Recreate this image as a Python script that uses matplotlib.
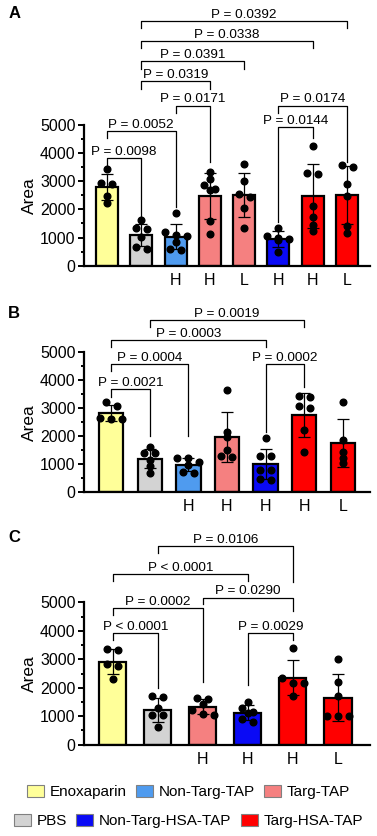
import numpy as np
import matplotlib
matplotlib.use('Agg')
import matplotlib.pyplot as plt
from matplotlib.patches import Patch

plt.rcParams['font.family'] = ['Liberation Sans', 'DejaVu Sans']

# group colours
colors = {
    'Enoxaparin': '#FFFF99',
    'PBS': '#D3D3D3',
    'Non-Targ-TAP': '#4F9BEF',
    'Targ-TAP': '#F58080',
    'Non-Targ-HSA-TAP': '#0A0AF5',
    'Targ-HSA-TAP': '#FF0000',
}

# panel A
groups_a = ['Enoxaparin', 'PBS', 'Non-Targ-TAP', 'Targ-TAP', 'Targ-TAP',
            'Non-Targ-HSA-TAP', 'Targ-HSA-TAP', 'Targ-HSA-TAP']
labels_a = ['', '', 'H', 'H', 'L', 'H', 'H', 'L']
points_a = [
    [3420, 2950, 2890, 2490, 2220],
    [1620, 1330, 1300, 1010, 590, 680],
    [1880, 1080, 1050, 1200, 830, 560, 600],
    [3320, 3080, 2870, 2690, 2720, 1590, 1110],
    [3620, 3000, 2450, 2540, 2060, 1330],
    [1350, 1000, 950, 1050, 900, 480],
    [4250, 3260, 3310, 2130, 1740, 1250, 1450],
    [3490, 3580, 2900, 2490, 1420, 1150],
]
# (left bar, right bar, line height, left leg end, right leg end, text)
brackets_a = [
    (1, 7, 8700, 8450, 8450, 'P = 0.0392'),
    (1, 6, 7970, 7740, 7740, 'P = 0.0338'),
    (1, 4, 7260, 7000, 7000, 'P = 0.0391'),
    (1, 3, 6550, 6290, 6290, 'P = 0.0319'),
    (2, 3, 5690, 5420, 3700, 'P = 0.0171'),
    (0, 2, 4770, 4530, 2100, 'P = 0.0052'),
    (0, 1, 3820, 3580, 1540, 'P = 0.0098'),
    (5, 7, 5690, 5420, 3700, 'P = 0.0174'),
    (5, 6, 4925, 1570, 4530, 'P = 0.0144'),
]

# panel B
groups_b = ['Enoxaparin', 'PBS', 'Non-Targ-TAP', 'Targ-TAP',
            'Non-Targ-HSA-TAP', 'Targ-HSA-TAP', 'Targ-HSA-TAP']
labels_b = ['', '', 'H', 'H', 'H', 'H', 'L']
points_b = [
    [3230, 3060, 2600, 2600, 2650],
    [1620, 1390, 1400, 1150, 950, 680],
    [1230, 1230, 1090, 980, 680, 730],
    [3640, 2160, 1970, 1500, 1250, 1290],
    [1950, 1300, 1290, 780, 800, 440, 460],
    [3380, 3430, 3020, 3070, 2220, 1450],
    [3210, 1860, 1450, 1240, 1030],
]
brackets_b = [
    (1, 5, 6140, 5890, 5890, 'P = 0.0019'),
    (0, 4, 5430, 5180, 5180, 'P = 0.0003'),
    (0, 2, 4570, 4330, 2000, 'P = 0.0004'),
    (0, 1, 3670, 3410, 2010, 'P = 0.0021'),
    (4, 5, 4570, 2150, 3750, 'P = 0.0002'),
]

# panel C
groups_c = ['Enoxaparin', 'PBS', 'Targ-TAP', 'Non-Targ-HSA-TAP',
            'Targ-HSA-TAP', 'Targ-HSA-TAP']
labels_c = ['', '', 'H', 'H', 'H', 'L']
points_c = [
    [3360, 3340, 2820, 2780, 2300],
    [1690, 1710, 1300, 1040, 1040, 610],
    [1630, 1610, 1420, 1220, 1080, 1050],
    [1490, 1300, 1150, 1100, 920, 790],
    [3380, 2330, 2160, 2180, 1710],
    [3010, 2190, 1710, 1010, 1010, 1010],
]
brackets_c = [
    (1, 4, 6980, 6720, 5730, 'P = 0.0106'),
    (0, 3, 5985, 5750, 5750, 'P < 0.0001'),
    (2, 4, 5165, 4930, 4700, 'P = 0.0290'),
    (0, 2, 4790, 4555, 2210, 'P = 0.0002'),
    (0, 1, 3910, 3675, 1980, 'P < 0.0001'),
    (3, 4, 3910, 2100, 3675, 'P = 0.0029'),
]

legend_row1 = ['Enoxaparin', 'Non-Targ-TAP', 'Targ-TAP']
legend_row2 = ['PBS', 'Non-Targ-HSA-TAP', 'Targ-HSA-TAP']


def swarm(vals, px_per_x, px_per_y=0.028, gap=5.0, step=11.0):
    """horizontal offsets so that dots with similar values sit side by side"""
    vals = np.asarray(vals, dtype=float)
    order = np.argsort(-vals)
    rows, cur = [], [order[0]]
    for i in order[1:]:
        if (vals[cur[0]] - vals[i]) * px_per_y < gap and len(cur) < 3:
            cur.append(i)
        else:
            rows.append(cur)
            cur = [i]
    rows.append(cur)
    offs = np.zeros(len(vals))
    for r in rows:
        n = len(r)
        for k, i in enumerate(r):
            offs[i] = (k - (n - 1) / 2) * step
    return offs / px_per_x


def panel(ax, groups, labels, points, brackets, xlim, width, px_per_x):
    x = np.arange(len(groups))
    means = [np.mean(p) for p in points]
    sds = [np.std(p, ddof=1) for p in points]
    ax.bar(x, means, width=width, color=[colors[g] for g in groups],
           edgecolor='black', linewidth=1.6, zorder=2)
    ax.errorbar(x, means, yerr=sds, fmt='none', ecolor='black',
                elinewidth=0.9, capsize=4, capthick=0.9, zorder=3)
    for xi, p in zip(x, points):
        ax.plot(xi + swarm(p, px_per_x), p, 'o', color='black',
                markersize=4.8, zorder=4, clip_on=False)
    for i, j, y, yl, yr, txt in brackets:
        ax.plot([i, i, j, j], [yl, y, y, yr], color='black', lw=0.9,
                clip_on=False, zorder=5)
        ax.annotate(txt, ((i + j) / 2, y), xytext=(0, 2.3),
                    textcoords='offset points', ha='center', va='baseline',
                    fontsize=9.7, annotation_clip=False)
    ax.set_xlim(*xlim)
    ax.set_ylim(0, 5000)
    ax.set_yticks(range(0, 5001, 1000))
    ax.set_yticks(range(500, 5000, 1000), minor=True)
    ax.set_xticks(x)
    ax.set_xticklabels(labels, fontsize=11.5)
    ax.tick_params(axis='x', length=0, pad=5)
    ax.tick_params(axis='y', which='major', length=4.5, width=1.4,
                   labelsize=11.5, pad=1.5)
    ax.tick_params(axis='y', which='minor', length=2.5, width=1.4)
    ax.set_ylabel('Area', fontsize=12.5, labelpad=2)
    for s in ['top', 'right']:
        ax.spines[s].set_visible(False)
    for s in ['left', 'bottom']:
        ax.spines[s].set_linewidth(1.6)


fig = plt.figure(figsize=(3.77, 8.36), dpi=100)
ax_a = fig.add_axes([0.2228, 0.6822, 0.7586, 0.1683])
ax_b = fig.add_axes([0.2228, 0.4111, 0.7586, 0.1678])
ax_c = fig.add_axes([0.2228, 0.1092, 0.7586, 0.1703])

panel(ax_a, groups_a, labels_a, points_a, brackets_a, (-0.67, 7.67), 0.64, 34.3)
panel(ax_b, groups_b, labels_b, points_b, brackets_b, (-0.70, 6.70), 0.63, 38.6)
panel(ax_c, groups_c, labels_c, points_c, brackets_c, (-0.64, 5.71), 0.60, 45.0)

for letter, yy in [('A', 836 - 14), ('B', 836 - 313), ('C', 836 - 537)]:
    fig.text(0.022, yy / 836, letter, fontsize=12, fontweight='bold',
             va='center', ha='left')

for row, yy in [(legend_row1, 0.0526), (legend_row2, 0.018)]:
    handles = [Patch(facecolor=colors[g], edgecolor='#808080', linewidth=0.8)
               for g in row]
    fig.legend(handles, row, loc='center', bbox_to_anchor=(0.5, yy),
               ncol=3, frameon=False, fontsize=11.0, handlelength=1.1,
               handleheight=0.85, handletextpad=0.4, columnspacing=0.6,
               borderaxespad=0, borderpad=0)

fig.savefig('out.png', dpi=100)
